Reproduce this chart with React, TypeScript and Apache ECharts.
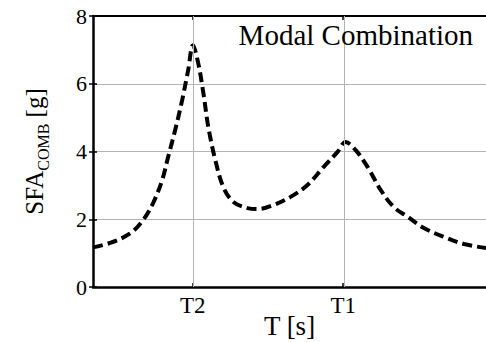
import React, { useEffect, useRef } from "react";
import * as echarts from "echarts";

const periods = [0, 0.113, 0.245, 0.332, 0.398, 0.458, 0.497, 0.544, 0.59, 0.63, 0.661, 0.696, 0.73, 0.763, 0.809, 0.862, 0.929, 1.022, 1.088, 1.194, 1.307, 1.419, 1.525, 1.618, 1.671, 1.738, 1.817, 1.904, 1.99, 2.083, 2.189, 2.321, 2.454, 2.6];
const sfaComb = [1.17, 1.3, 1.58, 1.98, 2.48, 3.16, 3.84, 4.64, 5.52, 6.41, 7.14, 6.61, 5.73, 4.72, 3.75, 2.95, 2.51, 2.33, 2.3, 2.42, 2.66, 3.01, 3.54, 3.99, 4.28, 4.04, 3.54, 2.86, 2.36, 2.07, 1.74, 1.48, 1.27, 1.15];
const periodTicks = [0.66, 1.655];
const periodTickLabels = ["T2", "T1"];
const yTicks = [0, 2, 4, 6, 8];

const FONT = "'Liberation Serif', 'Times New Roman', serif";

export default function App() {
  const ref = useRef<HTMLDivElement>(null);
  useEffect(() => {
    if (!ref.current) return;
    const chart = echarts.init(ref.current, undefined, { renderer: "svg" });
    const labelFor = (v: number) => {
      const i = periodTicks.findIndex((t) => Math.abs(t - v) < 1e-6);
      return i >= 0 ? periodTickLabels[i] : "";
    };
    chart.setOption({
      animation: false,
      backgroundColor: "#fff",
      textStyle: { fontFamily: FONT },
      title: {
        text: "Modal Combination",
        right: 13,
        top: 20,
        padding: 0,
        textStyle: { fontSize: 29, fontWeight: "normal", fontFamily: FONT, color: "#000" },
      },
      grid: { left: 93, top: 16, right: 0, bottom: 55, containLabel: false, outerBoundsMode: "none" },
      xAxis: [
        {
          type: "value",
          min: 0,
          max: 2.6,
          position: "bottom",
          name: "T [s]",
          nameLocation: "middle",
          nameGap: 27,
          nameMoveOverlap: false,
          nameTextStyle: { fontSize: 27, lineHeight: 24, fontFamily: FONT, color: "#000" },
          axisLine: { show: true, onZero: false, lineStyle: { color: "#000", width: 2.5 } },
          axisTick: { show: true, inside: true, length: 4, customValues: periodTicks, lineStyle: { color: "#000", width: 1.5 } },
          axisLabel: { show: true, customValues: periodTicks, formatter: (v: number) => labelFor(v), fontSize: 23, fontFamily: FONT, color: "#000", margin: 7 },
          splitLine: { show: false },
        },
        {
          type: "value",
          min: 0,
          max: 2.6,
          position: "top",
          axisLine: { show: true, onZero: false, lineStyle: { color: "#000", width: 2 } },
          axisTick: { show: true, inside: true, length: 4, customValues: periodTicks, lineStyle: { color: "#000", width: 1.5 } },
          axisLabel: { show: false },
          splitLine: { show: false },
        },
      ],
      yAxis: [
        {
          type: "value",
          min: 0,
          max: 8,
          interval: 2,
          position: "left",
          name: "{a|SFA}{b|COMB}{a| [g]}",
          nameLocation: "middle",
          nameRotate: 90,
          nameGap: 42,
          nameTextStyle: {
            color: "#000",
            rich: {
              a: { fontSize: 25, lineHeight: 33, fontFamily: FONT, color: "#000" },
              b: { fontSize: 16, lineHeight: 16, fontFamily: FONT, color: "#000", verticalAlign: "bottom" },
            },
          },
          axisLine: { show: true, onZero: false, lineStyle: { color: "#000", width: 2.5 } },
          axisTick: { show: true, inside: true, length: 4, lineStyle: { color: "#000", width: 1.5 } },
          axisLabel: { fontSize: 22, fontFamily: FONT, color: "#000", margin: 6, formatter: (v: number) => (yTicks.includes(v) ? String(v) : "") },
          splitLine: { show: true, lineStyle: { color: "#b4b4b4", width: 1 } },
        },
        {
          type: "value",
          min: 0,
          max: 8,
          interval: 2,
          position: "right",
          axisLine: { show: false },
          axisTick: { show: true, inside: true, length: 4, lineStyle: { color: "#000", width: 1.5 } },
          axisLabel: { show: false },
          splitLine: { show: false },
        },
      ],
      series: [
        {
          type: "line",
          data: [],
          z: 1,
          silent: true,
          markLine: {
            silent: true,
            symbol: "none",
            label: { show: false },
            lineStyle: { color: "#b4b4b4", width: 1, type: "solid" },
            data: periodTicks.map((t) => ({ xAxis: t })),
          },
        },
        {
          type: "line",
          z: 3,
          data: periods.map((p, i) => [p, sfaComb[i]]),
          showSymbol: false,
          smooth: 0.35,
          lineStyle: { color: "#000", width: 4, type: [10, 5], cap: "butt" },
        },
      ],
    });
    return () => chart.dispose();
  }, []);
  return <div ref={ref} style={{ width: 486, height: 342, position: "absolute", left: 0, top: 0 }} />;
}
